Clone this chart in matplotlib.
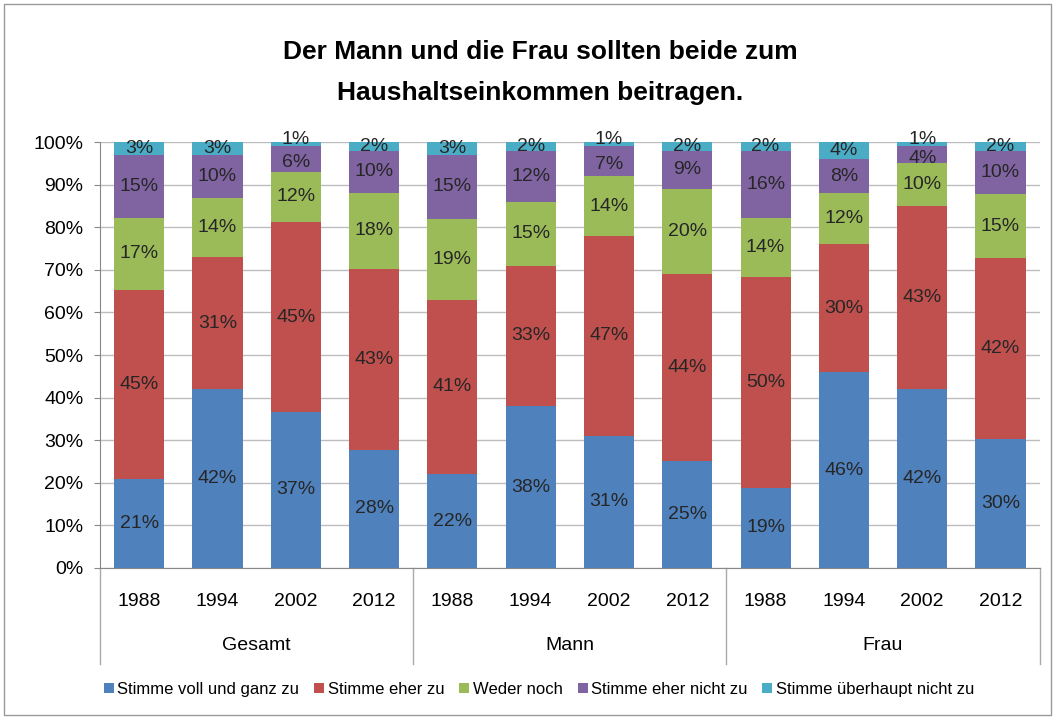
import numpy as np
import matplotlib
matplotlib.use("Agg")
import matplotlib.pyplot as plt
from matplotlib.patches import Rectangle

plt.rcParams['font.family'] = ['Liberation Sans Narrow', 'Liberation Sans', 'DejaVu Sans']

# Daten
groups = ["Gesamt", "Mann", "Frau"]
years = ["1988", "1994", "2002", "2012"]
series = ["Stimme voll und ganz zu", "Stimme eher zu", "Weder noch",
          "Stimme eher nicht zu", "Stimme überhaupt nicht zu"]
voll = [21, 42, 37, 28, 22, 38, 31, 25, 19, 46, 42, 30]
eher = [45, 31, 45, 43, 41, 33, 47, 44, 50, 30, 43, 42]
weder = [17, 14, 12, 18, 19, 15, 14, 20, 14, 12, 10, 15]
eher_nicht = [15, 10, 6, 10, 15, 12, 7, 9, 16, 8, 4, 10]
gar_nicht = [3, 3, 1, 2, 3, 2, 1, 2, 2, 4, 1, 2]

colors = ["#4F81BD", "#C0504D", "#9BBB59", "#8064A2", "#4BACC6"]

vals = np.array([voll, eher, weder, eher_nicht, gar_nicht], dtype=float)
shares = vals / vals.sum(axis=0) * 100
n = vals.shape[1]
x = np.arange(n)

fig = plt.figure(figsize=(10.57, 7.18), dpi=100)
ax = fig.add_axes([0.0946, 0.209, 0.889, 0.593])

bottom = np.zeros(n)
for i in range(len(series)):
    ax.bar(x, shares[i], 0.64, bottom=bottom, color=colors[i], label=series[i], zorder=3)
    for j in range(n):
        yc = bottom[j] + shares[i][j] / 2
        # kleine Werte oben etwas auseinanderschieben
        if i == 4 and vals[i][j] <= 1:
            yc += 1.2
        elif i == 3 and vals[4][j] <= 1:
            yc -= 0.8
        ax.text(x[j], yc, f"{int(vals[i][j])}%",
                ha='center', va='center', fontsize=14, color='#262626', zorder=4)
    bottom += shares[i]

ax.set_xlim(-0.5, n - 0.5)
ax.set_ylim(0, 100)
ax.set_yticks(np.arange(0, 101, 10))
ax.set_yticklabels([f"{v}%" for v in range(0, 101, 10)], fontsize=14)
ax.yaxis.grid(True, color='#bdbdbd', linewidth=1, zorder=0)
ax.tick_params(axis='y', length=4, color='#888888', pad=8)
ax.set_xticks(x)
ax.set_xticklabels(years * len(groups), fontsize=14)
ax.tick_params(axis='x', length=0, pad=18)
for s in ['top', 'right']:
    ax.spines[s].set_visible(False)
for s in ['left', 'bottom']:
    ax.spines[s].set_color('#888888')

# Gruppenbeschriftung
for k, g in enumerate(groups):
    ax.text(k * 4 + 1.5, -18.3, g, ha='center', va='center', fontsize=14)
for xs in [-0.5, 3.5, 7.5, 11.5]:
    ax.plot([xs, xs], [0, -22.5], color='#aaaaaa', linewidth=1, clip_on=False)

fig.text(0.511, 0.928, "Der Mann und die Frau sollten beide zum", ha='center', va='center',
         fontsize=19, fontweight='bold')
fig.text(0.511, 0.87, "Haushaltseinkommen beitragen.", ha='center', va='center',
         fontsize=19, fontweight='bold')

leg = fig.legend(loc='center', bbox_to_anchor=(0.51, 0.04), ncol=5, frameon=False,
                 fontsize=12, handlelength=0.6, handleheight=0.6, handletextpad=0.2,
                 columnspacing=0.9)

fig.patches.append(Rectangle((0.004, 0.004), 0.99, 0.99, transform=fig.transFigure,
                             fill=False, edgecolor='#999999', linewidth=1))

fig.savefig("out.png", dpi=100)
